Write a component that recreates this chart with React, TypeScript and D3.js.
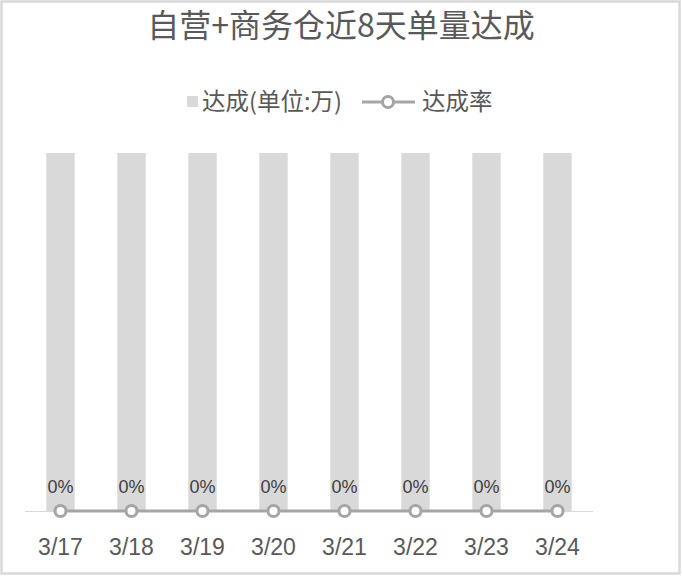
import React from "react";
import * as d3 from "d3";

const categories = ["3/17", "3/18", "3/19", "3/20", "3/21", "3/22", "3/23", "3/24"];
const volumeValues = [1, 1, 1, 1, 1, 1, 1, 1];
const rateValues = [0, 0, 0, 0, 0, 0, 0, 0];
const title = "自营+商务仓近8天单量达成";
const legendBar = "达成(单位:万)";
const legendLine = "达成率";

const W = 682;
const H = 576;
const FONT = "'Liberation Sans', Arial, 'Noto Sans CJK SC', sans-serif";
const CJK = "'Noto Sans CJK SC', 'Liberation Sans', sans-serif";

export default function App() {
  const x = d3.scaleBand<string>().domain(categories).range([25, 593]).paddingInner(0.6).paddingOuter(0.3);
  const yBar = d3.scaleLinear().domain([0, 1]).range([511, 153]);
  const yRate = d3.scaleLinear().domain([0, 1]).range([511, 153]);
  const cx = (c: string) => (x(c) ?? 0) + x.bandwidth() / 2;
  const line = d3
    .line<number>()
    .x((_, i) => cx(categories[i]))
    .y((d) => yRate(d));

  return (
    <svg width={W} height={H} style={{ position: "absolute", left: 0, top: 0, background: "#fff" }}>
      <rect x={1.5} y={1.5} width={678} height={572} fill="#fff" stroke="#d9d9d9" strokeWidth={2.5} />
      <text x={341} y={37} textAnchor="middle" fontFamily={CJK} fontSize={32} fill="#595959">
        {title}
      </text>
      {/* legend */}
      <rect x={187} y={96} width={11} height={11} fill="#d9d9d9" />
      <text x={202} y={110} fontFamily={CJK} fontSize={23.5} fill="#595959">
        {legendBar}
      </text>
      <line x1={362} x2={415} y1={102} y2={102} stroke="#a5a5a5" strokeWidth={3} />
      <circle cx={388} cy={102} r={5.5} fill="#fff" stroke="#a5a5a5" strokeWidth={3} />
      <text x={422} y={110} fontFamily={CJK} fontSize={23.5} fill="#595959">
        {legendLine}
      </text>
      {/* bars */}
      {categories.map((c, i) => (
        <rect
          key={c}
          x={x(c)}
          y={yBar(volumeValues[i])}
          width={x.bandwidth()}
          height={yBar(0) - yBar(volumeValues[i])}
          fill="#d9d9d9"
        />
      ))}
      {/* axis line */}
      <line x1={25} x2={593} y1={511.5} y2={511.5} stroke="#d9d9d9" strokeWidth={1} />
      {/* rate line */}
      <path d={line(rateValues) ?? ""} fill="none" stroke="#a5a5a5" strokeWidth={3} />
      {categories.map((c, i) => (
        <circle key={c} cx={cx(c)} cy={yRate(rateValues[i])} r={5.5} fill="#fff" stroke="#a5a5a5" strokeWidth={3} />
      ))}
      {categories.map((c, i) => (
        <text key={c} x={cx(c)} y={493} textAnchor="middle" fontFamily={FONT} fontSize={18} fill="#404040">
          {d3.format(".0%")(rateValues[i])}
        </text>
      ))}
      {categories.map((c) => (
        <text key={c} x={cx(c)} y={555} textAnchor="middle" fontFamily={FONT} fontSize={23} fill="#595959">
          {c}
        </text>
      ))}
    </svg>
  );
}
